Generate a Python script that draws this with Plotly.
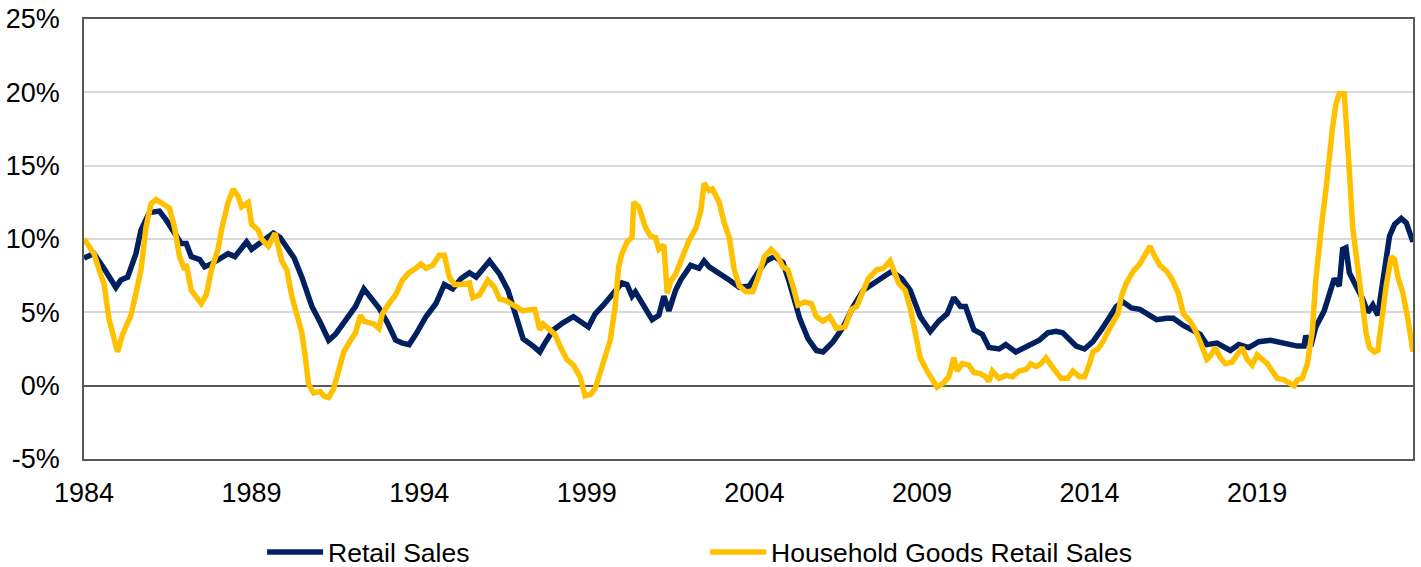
import plotly.graph_objects as go

# ---- Data (decimal years, % y/y) ----
retail_x = [1984.0, 1984.3, 1984.65, 1984.95, 1985.1, 1985.3, 1985.55, 1985.7, 1985.95, 1986.25,
            1986.45, 1986.7, 1986.9, 1987.05, 1987.2, 1987.45, 1987.6, 1987.8, 1988.1, 1988.3,
            1988.5, 1988.85, 1989.0, 1989.3, 1989.65, 1989.85, 1990.0, 1990.27, 1990.5, 1990.8,
            1991.05, 1991.3, 1991.5, 1991.8, 1992.1, 1992.35, 1992.55, 1992.8, 1993.05, 1993.3,
            1993.5, 1993.7, 1993.9, 1994.2, 1994.5, 1994.75, 1995.0, 1995.25, 1995.5, 1995.7,
            1996.1, 1996.4, 1996.65, 1996.9, 1997.1, 1997.4, 1997.6, 1997.75, 1998.0, 1998.3,
            1998.6, 1999.05, 1999.25, 1999.5, 1999.75, 2000.05, 2000.2, 2000.35, 2000.45, 2000.65,
            2000.95, 2001.15, 2001.3, 2001.45, 2001.65, 2001.8, 2002.1, 2002.35, 2002.5, 2002.65,
            2002.95, 2003.25, 2003.55, 2003.85, 2004.1, 2004.35, 2004.6, 2004.85, 2005.05, 2005.35,
            2005.6, 2005.85, 2006.05, 2006.35, 2006.65, 2006.95, 2007.25, 2007.55, 2007.85, 2008.1,
            2008.4, 2008.65, 2008.95, 2009.25, 2009.5, 2009.75, 2009.95, 2010.15, 2010.3, 2010.55,
            2010.8, 2011.0, 2011.3, 2011.5, 2011.8, 2012.1, 2012.35, 2012.5, 2012.75, 2013.0,
            2013.2, 2013.4, 2013.6, 2013.85, 2014.1, 2014.35, 2014.6, 2014.8, 2015.0, 2015.25,
            2015.5, 2015.75, 2016.0, 2016.3, 2016.5, 2016.8, 2017.1, 2017.3, 2017.5, 2017.8,
            2018.2, 2018.45, 2018.75, 2019.05, 2019.4, 2019.6, 2019.9, 2020.2, 2020.4, 2020.45,
            2020.6, 2020.75, 2021.0, 2021.15, 2021.3, 2021.45, 2021.55, 2021.65, 2021.75, 2021.95,
            2022.15, 2022.3, 2022.45, 2022.6, 2022.75, 2022.95, 2023.1, 2023.3, 2023.45, 2023.65]
retail_sales = [8.7, 9.0, 7.8, 6.7, 7.2, 7.4, 9.0, 10.6, 11.8, 11.9,
                11.3, 10.5, 9.7, 9.7, 8.8, 8.6, 8.1, 8.3, 8.7, 9.0,
                8.8, 9.8, 9.3, 9.8, 10.4, 10.1, 9.6, 8.7, 7.4, 5.4,
                4.3, 3.1, 3.5, 4.4, 5.4, 6.6, 6.0, 5.3, 4.3, 3.1,
                2.9, 2.8, 3.5, 4.7, 5.6, 6.9, 6.6, 7.3, 7.7, 7.4,
                8.5, 7.6, 6.5, 4.7, 3.2, 2.7, 2.3, 2.9, 3.8, 4.3,
                4.7, 4.0, 4.9, 5.5, 6.2, 7.0, 6.9, 6.1, 6.4, 5.7,
                4.5, 4.8, 6.1, 5.1, 6.5, 7.2, 8.2, 8.0, 8.5, 8.1,
                7.7, 7.2, 6.7, 6.8, 7.7, 8.5, 8.8, 8.4, 7.0, 4.6,
                3.2, 2.4, 2.3, 3.0, 4.0, 5.4, 6.5, 7.0, 7.4, 7.8,
                7.3, 6.5, 4.7, 3.7, 4.4, 4.9, 6.0, 5.4, 5.4, 3.8,
                3.5, 2.6, 2.5, 2.8, 2.3, 2.6, 2.9, 3.1, 3.6, 3.7,
                3.6, 3.1, 2.7, 2.5, 3.0, 3.8, 4.7, 5.4, 5.7, 5.3,
                5.2, 4.9, 4.5, 4.6, 4.6, 4.1, 3.8, 3.5, 2.8, 2.9,
                2.4, 2.8, 2.6, 3.0, 3.1, 3.0, 2.9, 2.7, 2.7, 3.4,
                2.7, 4.0, 5.1, 6.3, 7.3, 6.8, 9.3, 9.4, 7.7, 6.8,
                5.9, 5.0, 5.5, 4.8, 7.2, 10.2, 11.0, 11.4, 11.1, 9.8]

household_x = [1984.0, 1984.15, 1984.3, 1984.45, 1984.6, 1984.75, 1984.9, 1985.0, 1985.15, 1985.4,
               1985.55, 1985.7, 1985.85, 1986.0, 1986.15, 1986.35, 1986.55, 1986.7, 1986.85, 1987.0,
               1987.05, 1987.2, 1987.35, 1987.5, 1987.65, 1987.8, 1988.0, 1988.1, 1988.3, 1988.45,
               1988.6, 1988.7, 1988.9, 1989.0, 1989.2, 1989.3, 1989.5, 1989.7, 1989.9, 1990.05,
               1990.2, 1990.35, 1990.5, 1990.6, 1990.7, 1990.85, 1991.05, 1991.15, 1991.3, 1991.45,
               1991.6, 1991.75, 1991.9, 1992.1, 1992.25, 1992.35, 1992.5, 1992.65, 1992.8, 1992.9,
               1993.1, 1993.3, 1993.5, 1993.7, 1993.9, 1994.05, 1994.2, 1994.4, 1994.6, 1994.75,
               1994.9, 1995.05, 1995.25, 1995.5, 1995.6, 1995.8, 1996.05, 1996.25, 1996.4, 1996.6,
               1996.8, 1997.1, 1997.35, 1997.45, 1997.6, 1997.7, 1997.9, 1998.05, 1998.2, 1998.4,
               1998.6, 1998.8, 1998.95, 1999.1, 1999.25, 1999.4, 1999.55, 1999.7, 1999.85, 1999.95,
               2000.05, 2000.2, 2000.35, 2000.4, 2000.55, 2000.75, 2000.9, 2001.05, 2001.15, 2001.3,
               2001.4, 2001.5, 2001.65, 2001.85, 2002.05, 2002.25, 2002.4, 2002.5, 2002.65, 2002.75,
               2002.95, 2003.1, 2003.25, 2003.4, 2003.55, 2003.75, 2003.95, 2004.1, 2004.3, 2004.5,
               2004.7, 2004.85, 2005.0, 2005.15, 2005.3, 2005.5, 2005.7, 2005.85, 2006.05, 2006.25,
               2006.45, 2006.7, 2006.9, 2007.05, 2007.2, 2007.4, 2007.65, 2007.85, 2008.05, 2008.15,
               2008.3, 2008.5, 2008.65, 2008.8, 2008.95, 2009.15, 2009.3, 2009.45, 2009.65, 2009.8,
               2009.95, 2010.05, 2010.2, 2010.4, 2010.55, 2010.75, 2010.9, 2011.0, 2011.1, 2011.3,
               2011.5, 2011.7, 2011.9, 2012.1, 2012.25, 2012.4, 2012.55, 2012.7, 2012.85, 2013.0,
               2013.15, 2013.35, 2013.5, 2013.7, 2013.85, 2014.0, 2014.1, 2014.25, 2014.4, 2014.55,
               2014.7, 2014.85, 2014.95, 2015.1, 2015.3, 2015.5, 2015.65, 2015.8, 2015.95, 2016.1,
               2016.3, 2016.45, 2016.65, 2016.8, 2017.0, 2017.15, 2017.3, 2017.4, 2017.5, 2017.6,
               2017.75, 2017.9, 2018.05, 2018.25, 2018.4, 2018.55, 2018.7, 2018.85, 2019.0, 2019.15,
               2019.3, 2019.45, 2019.6, 2019.8, 2020.0, 2020.1, 2020.2, 2020.35, 2020.5, 2020.65,
               2020.75, 2020.85, 2020.95, 2021.05, 2021.15, 2021.25, 2021.35, 2021.45, 2021.6, 2021.65,
               2021.75, 2021.85, 2022.0, 2022.05, 2022.15, 2022.25, 2022.35, 2022.5, 2022.6, 2022.7,
               2022.85, 2023.0, 2023.1, 2023.2, 2023.35, 2023.5, 2023.65]
household_goods = [10.0, 9.5, 9.0, 7.9, 6.9, 4.5, 3.1, 2.3, 3.5, 4.8,
                   6.3, 7.9, 10.8, 12.4, 12.7, 12.4, 12.1, 10.8, 8.8, 7.9,
                   8.3, 6.5, 6.0, 5.6, 6.2, 7.9, 9.3, 10.6, 12.5, 13.4,
                   12.9, 12.2, 12.5, 11.0, 10.6, 10.0, 9.5, 10.4, 8.5, 7.9,
                   6.1, 4.7, 3.6, 2.0, 0.1, -0.5, -0.4, -0.7, -0.8, -0.2,
                   1.1, 2.3, 2.9, 3.6, 4.8, 4.4, 4.3, 4.2, 3.9, 4.9,
                   5.6, 6.2, 7.2, 7.7, 8.0, 8.3, 8.0, 8.2, 8.9, 8.9,
                   7.4, 6.9, 6.9, 7.0, 6.0, 6.2, 7.2, 6.7, 5.9, 5.8,
                   5.5, 5.1, 5.2, 5.2, 3.8, 4.2, 3.8, 3.5, 2.7, 1.8,
                   1.4, 0.6, -0.7, -0.6, -0.2, 0.9, 1.8, 3.1, 5.4, 8.1,
                   9.0, 9.8, 10.1, 12.5, 12.2, 10.8, 10.2, 10.1, 9.3, 9.6,
                   6.3, 7.1, 7.6, 8.8, 9.9, 10.7, 11.9, 13.8, 13.3, 13.4,
                   12.5, 11.1, 10.1, 7.9, 6.8, 6.4, 6.4, 7.3, 8.8, 9.3,
                   8.8, 8.1, 7.9, 6.8, 5.5, 5.7, 5.6, 4.7, 4.4, 4.7,
                   3.9, 4.0, 5.2, 5.4, 6.3, 7.3, 7.9, 8.0, 8.5, 7.9,
                   7.0, 6.5, 5.3, 3.6, 1.9, 1.0, 0.4, -0.1, 0.2, 0.6,
                   1.9, 1.0, 1.5, 1.4, 0.9, 0.8, 0.6, 0.3, 1.0, 0.5,
                   0.7, 0.6, 1.0, 1.1, 1.5, 1.3, 1.5, 1.9, 1.4, 1.0,
                   0.5, 0.5, 1.0, 0.6, 0.6, 1.5, 2.3, 2.5, 3.0, 3.7,
                   4.3, 4.9, 6.1, 7.0, 7.8, 8.3, 8.9, 9.5, 8.8, 8.2,
                   7.8, 7.3, 6.3, 4.9, 4.4, 3.8, 3.0, 2.4, 1.8, 2.0,
                   2.6, 1.9, 1.5, 1.6, 2.1, 2.6, 1.8, 1.4, 2.1, 1.8,
                   1.5, 1.0, 0.5, 0.4, 0.2, 0.0, 0.4, 0.5, 1.5, 3.8,
                   7.2, 9.9, 11.5, 13.3, 15.8, 17.6, 19.2, 19.9, 19.9, 17.6,
                   14.7, 10.8, 8.1, 7.0, 5.2, 3.6, 2.6, 2.3, 2.4, 4.5,
                   6.8, 8.8, 8.6, 7.4, 6.3, 4.5, 2.3]

year_ticks = [1984, 1989, 1994, 1999, 2004, 2009, 2014, 2019]
pct_ticks = [-5, 0, 5, 10, 15, 20, 25]

NAVY = "#002060"
GOLD = "#FFC000"
FONT = "Arial, Liberation Sans, sans-serif"

fig = go.Figure()
fig.add_trace(go.Scatter(x=retail_x, y=retail_sales, mode="lines", name="Retail Sales",
                         line=dict(color=NAVY, width=5.5)))
fig.add_trace(go.Scatter(x=household_x, y=household_goods, mode="lines",
                         name="Household Goods Retail Sales",
                         line=dict(color=GOLD, width=5.5)))

fig.update_layout(
    width=1421, height=567,
    margin=dict(l=84, r=8, t=19, b=108, autoexpand=False),
    paper_bgcolor="white", plot_bgcolor="white",
    font=dict(family=FONT, size=27, color="black"),
    showlegend=True,
    legend=dict(orientation="h", x=0.134, xanchor="left", y=-0.212, yanchor="middle",
                entrywidth=372, entrywidthmode="pixels", itemwidth=56,
                font=dict(family=FONT, size=26.5, color="black"),
                bgcolor="rgba(0,0,0,0)"),
)
fig.update_xaxes(range=[1984, 2023.65], tickmode="array", tickvals=year_ticks,
                 ticktext=[str(t) for t in year_ticks], showgrid=False, automargin=False,
                 showline=True, linecolor="#595959", linewidth=1.5, mirror=True,
                 ticks="", ticklabelstandoff=9, zeroline=False)
fig.update_yaxes(range=[-5, 25], tickmode="array", tickvals=pct_ticks,
                 ticktext=[f"{t}%" for t in pct_ticks], showgrid=True, automargin=False,
                 gridcolor="#D9D9D9", gridwidth=1.5,
                 zeroline=True, zerolinecolor="#595959", zerolinewidth=1.5,
                 showline=True, linecolor="#595959", linewidth=1.5, mirror=True,
                 ticks="", ticklabelstandoff=17)

fig.write_html("out.html", config={"displayModeBar": False},
               post_script="document.body.style.margin='0';document.body.style.overflow='hidden';")
